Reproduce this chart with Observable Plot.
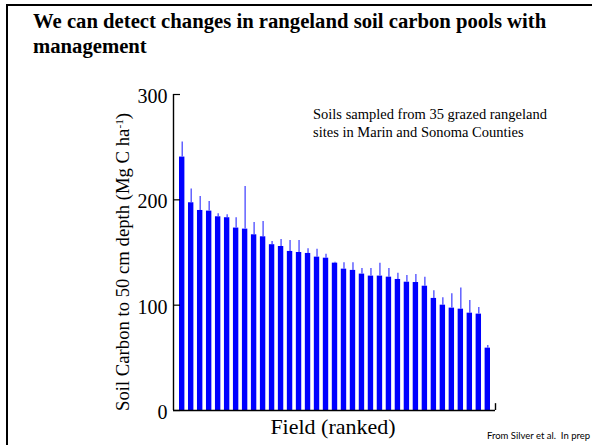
<!DOCTYPE html>
<html><head><meta charset="utf-8">
<script src="https://cdn.jsdelivr.net/npm/d3@7"></script>
<script src="https://cdn.jsdelivr.net/npm/@observablehq/plot@0.6"></script>
<style>
html,body{margin:0;padding:0;background:#fff;}
#wrap{position:relative;width:592px;height:445px;overflow:hidden;font-family:"Liberation Serif","Times New Roman",serif;color:#000;}
#border{position:absolute;left:6px;top:4px;width:700px;height:600px;border-top:2px solid #000;border-left:2px solid #000;}
#chart{position:absolute;left:0;top:0;}
#title{position:absolute;left:33px;top:8.5px;font-size:20.7px;line-height:25px;font-weight:bold;white-space:nowrap;}
#note{position:absolute;left:313px;top:105px;font-size:14.5px;line-height:18px;white-space:nowrap;}
#ylab{position:absolute;left:121.5px;top:262px;transform:translate(-50%,-50%) rotate(-90deg);font-size:18.7px;line-height:19px;white-space:nowrap;}
#ylab sup{font-size:0.6em;vertical-align:0.5em;line-height:1;}
#xlab{position:absolute;left:333px;top:415.5px;transform:translateX(-50%);font-size:22px;line-height:22px;white-space:nowrap;}
#foot{position:absolute;left:487px;top:431px;font-family:Lato,"Open Sans",sans-serif;font-size:9.5px;line-height:10px;white-space:nowrap;}
</style>
</head>
<body>
<div id="wrap">
  <div id="border"></div>
  <div id="chart"></div>
  <div id="title">We can detect changes in rangeland soil carbon pools with<br>management</div>
  <div id="note">Soils sampled from 35 grazed rangeland<br>sites in Marin and Sonoma Counties</div>
  <div id="ylab">Soil Carbon to 50 cm depth (Mg C ha<sup>-1</sup>)</div>
  <div id="xlab">Field (ranked)</div>
  <div id="foot">From Silver et al.&nbsp; In prep</div>
</div>
<script>
// Fields ranked by soil carbon
const fields = ["1","2","3","4","5","6","7","8","9","10","11","12","13","14","15","16","17","18","19","20","21","22","23","24","25","26","27","28","29","30","31","32","33","34","35"];
// Mean soil carbon (Mg C / ha) to 50 cm
const means = [240.6,197.2,189.9,189.3,183.9,183.0,173.2,172.2,166.8,164.9,157.4,155.7,151.0,150.0,149.1,145.6,144.6,139.9,134.2,133.0,129.5,127.6,127.6,126.6,124.4,121.8,121.5,118.0,106.4,100.0,97.2,96.2,92.4,91.5,59.2];
// Upper end of error bars
const uppers = [254.8,210.2,203.2,198.5,186.8,185.8,183.0,212.7,178.5,179.5,160.5,162.4,161.4,161.4,153.5,153.2,148.4,140.8,140.3,140.3,134.9,134.9,139.9,134.9,130.4,128.2,129.2,126.6,113.7,107.0,110.8,116.2,104.5,97.8,61.7];
const yTicks = [0, 100, 200, 300];

const data = fields.map((f, i) => ({field: f, mean: means[i], upper: uppers[i]}));

const W = 592, H = 445, mL = 173, mR = 97, mT = 94, mB = 35;
const half = (W - mL - mR) / 2;

const chart = Plot.plot({
  width: W, height: H,
  marginLeft: mL, marginRight: mR, marginTop: mT, marginBottom: mB,
  style: {fontFamily: "'Liberation Serif', 'Times New Roman', serif", background: "transparent", color: "#000"},
  x: {domain: fields, range: [179, 490], paddingInner: 0.4, paddingOuter: 0, axis: null},
  y: {domain: [0, 300], axis: null},
  marks: [
    Plot.barY(data, {x: "field", y: "mean", fill: "#0000ff"}),
    Plot.ruleX(data, {x: "field", y1: "mean", y2: "upper", stroke: "#3a3aff", strokeWidth: 1.2}),
    Plot.ruleY(yTicks, {y: d => d, stroke: "#000", strokeWidth: 1.2, insetRight: 2 * half - 7}),
    Plot.ruleY([0], {stroke: "#000", strokeWidth: 1.4}),
    Plot.ruleX([0], {x: null, dx: -half, y1: 0, y2: 300, stroke: "#000", strokeWidth: 1.4}),
    Plot.ruleX([0], {x: null, dx: half, y1: 0, y2: 6.5, stroke: "#000", strokeWidth: 1.4}),
    Plot.axisY({ticks: yTicks, tickSize: 0, tickPadding: 6, fontSize: 20, fontFamily: "Liberation Serif", label: null, dy: 2, tickFormat: d => String(d)})
  ]
});
document.getElementById("chart").appendChild(chart);
</script>
</body></html>
